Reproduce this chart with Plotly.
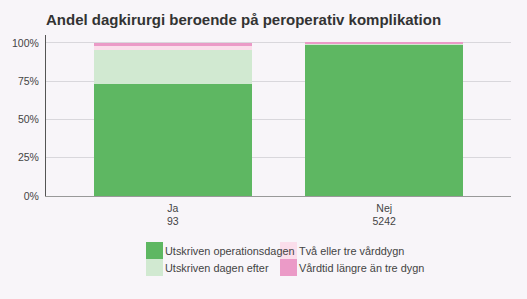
import plotly.graph_objects as go

categories = ["Ja<br>93", "Nej<br>5242"]
series_names = ["Utskriven operationsdagen", "Utskriven dagen efter",
                "Två eller tre vårddygn", "Vårdtid längre än tre dygn"]
series_values = [
    [0.731, 0.987],
    [0.226, 0.008],
    [0.022, 0.004],
    [0.021, 0.001],
]
series_colors = ["#5eb762", "#d1e9d1", "#fbdeeb", "#eb9ac7"]
y_tickvals = [0, 0.25, 0.5, 0.75, 1.0]
y_ticktext = ["0%", "25%", "50%", "75%", "100%"]

fig = go.Figure()
for name, vals, col in zip(series_names, series_values, series_colors):
    fig.add_trace(go.Bar(x=categories, y=vals, name=name, marker_color=col,
                         marker_line_width=0, showlegend=False))

bg = "#f8f5f9"
L, R, T, B = 46, 16, 35, 103
W, H = 527, 299
pw, ph = W - L - R, H - T - B

def px2x(px):
    return (px - L) / pw

def py2y(py):
    return (H - B - py) / ph

shapes = []
annotations = []
positions = [(146, 242), (146, 259), (280, 242), (280, 259)]
for (sx, sy), name, col in zip(positions, series_names, series_colors):
    shapes.append(dict(type="rect", xref="paper", yref="paper",
                       x0=px2x(sx), x1=px2x(sx + 17), y0=py2y(sy + 17), y1=py2y(sy),
                       fillcolor=col, line_width=0))
    annotations.append(dict(xref="paper", yref="paper", x=px2x(sx + 17), y=py2y(sy + 8.5),
                            text=name, showarrow=False, xanchor="left", yanchor="middle",
                            font=dict(size=10.9, color="#444", family="Liberation Sans")))

fig.update_layout(
    width=W, height=H,
    margin=dict(l=L, r=R, t=T, b=B),
    barmode="stack", bargap=0.25,
    paper_bgcolor=bg, plot_bgcolor=bg,
    title=dict(text="Andel dagkirurgi beroende på peroperativ komplikation",
               x=L / W, xanchor="left", y=1 - 20 / H, yanchor="middle",
               font=dict(size=15, color="#333", family="Liberation Sans", weight="bold")),
    font=dict(family="Liberation Sans", size=10, color="#444"),
    shapes=shapes, annotations=annotations,
    xaxis=dict(range=[-0.6, 1.6], showgrid=False, showline=True, linecolor="#999",
               linewidth=1, ticks="outside", ticklen=2, tickcolor="rgba(0,0,0,0)",
               tickfont=dict(size=10.5, color="#444")),
    yaxis=dict(range=[0, 1.052], tickvals=y_tickvals, ticktext=y_ticktext,
               showgrid=True, gridcolor="#d9d7dc", gridwidth=1, zeroline=False,
               showline=True, linecolor="#555", linewidth=1,
               ticks="outside", ticklen=4, tickcolor="rgba(0,0,0,0)",
               tickfont=dict(size=10.5, color="#444")),
)

fig.write_html("out.html")
